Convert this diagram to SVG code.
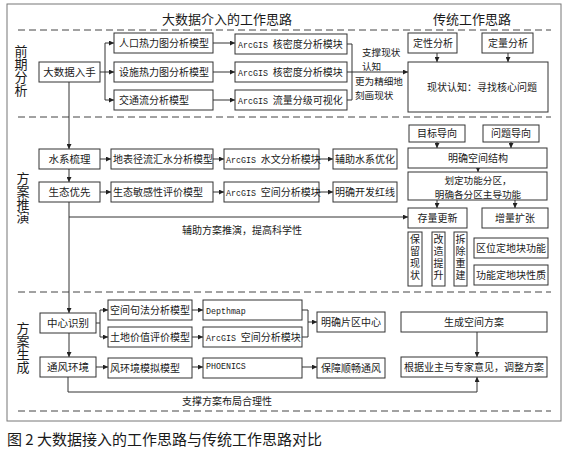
<svg xmlns="http://www.w3.org/2000/svg" width="567" height="451" viewBox="0 0 567 451">
<style>
.b{fill:#fff;stroke:#333;stroke-width:1}
.t{font-family:"Noto Sans CJK SC","Liberation Sans",sans-serif;font-size:10px;fill:#1a1a1a}
.m{font-family:"Liberation Mono","Noto Sans CJK SC",monospace;font-size:8.3px;fill:#1a1a1a}
.z{font-family:"Noto Sans CJK SC",sans-serif;font-size:10px}
.c{text-anchor:middle}
.k{font-size:10.5px}
.g{font-size:9.6px}
.h{font-family:"Noto Sans CJK SC",sans-serif;font-size:13px;fill:#1a1a1a}
.s{font-family:"Noto Sans CJK SC",sans-serif;font-size:13px;fill:#1a1a1a;writing-mode:vertical-rl}
.v{font-family:"Noto Sans CJK SC",sans-serif;font-size:10px;fill:#1a1a1a;writing-mode:vertical-rl;letter-spacing:2px}
.d{stroke:#444;stroke-width:1;stroke-dasharray:7 4;fill:none}
.l{fill:none;stroke:#333;stroke-width:1}
.a{marker-end:url(#ar)}
</style>
<defs>
<marker id="ar" viewBox="0 0 6 6" refX="6" refY="3" markerWidth="5" markerHeight="5" markerUnits="userSpaceOnUse" orient="auto"><path d="M0,0L6,3L0,6z" fill="#222"/></marker>
</defs>
<rect x="0" y="0" width="567" height="451" fill="#fff"/>
<rect x="7" y="4" width="554" height="417" fill="none" stroke="#777" stroke-width="1"/>
<g id="frame">
<line class="d" x1="18" y1="30" x2="551" y2="30"/>
<line class="d" x1="18" y1="117" x2="551" y2="117"/>
<line class="d" x1="18" y1="292" x2="551" y2="292"/>
<line class="d" x1="18" y1="411" x2="551" y2="411"/>
<text class="h" x="162" y="24">大数据介入的工作思路</text>
<text class="h" x="433" y="24">传统工作思路</text>
<text class="s" x="21" y="45">前期分析</text>
<text class="s" x="23" y="172">方案推演</text>
<text class="s" x="23" y="322">方案生成</text>
<text style="font-family:'Noto Sans CJK SC',sans-serif;font-size:15px;fill:#1a1a1a" x="7" y="445">图 2 大数据接入的工作思路与传统工作思路对比</text>
</g>
<g id="connectors">
<path class="l" d="M100,72H105M105,43V100"/>
<path class="l a" d="M105,43H114"/>
<path class="l a" d="M105,72H114"/>
<path class="l a" d="M105,100H114"/>
<path class="l a" d="M213,43H235"/>
<path class="l a" d="M213,72H235"/>
<path class="l a" d="M213,100H235"/>
<path class="l" d="M347,44H352V100H347"/>
<path class="l a" d="M347,72H408"/>
<path class="l a" d="M437,53V62"/>
<path class="l a" d="M508,53V62"/>
<path class="l a" d="M69,82V149"/>
<path class="l a" d="M69,169V182"/>
<path class="l a" d="M69,202V313"/>
<path class="l a" d="M69,217H408"/>
<path class="l a" d="M100,159H111"/>
<path class="l a" d="M100,192H111"/>
<path class="l a" d="M213,159H224"/>
<path class="l a" d="M213,192H224"/>
<path class="l a" d="M319,159H333"/>
<path class="l a" d="M319,192H333"/>
<path class="l a" d="M437,142V148"/>
<path class="l a" d="M511,142V148"/>
<path class="l a" d="M478,168V172"/>
<path class="l a" d="M437,200V208"/>
<path class="l a" d="M515,200V208"/>
<path class="l" d="M96,323H100M100,310V337"/>
<path class="l a" d="M100,310H108"/>
<path class="l a" d="M100,337H108"/>
<path class="l a" d="M192,310H203"/>
<path class="l a" d="M192,337H203"/>
<path class="l" d="M302,310H308V337H302"/>
<path class="l a" d="M308,322H317"/>
<path class="l a" d="M69,333V357"/>
<path class="l a" d="M96,367H108"/>
<path class="l a" d="M192,367H203"/>
<path class="l a" d="M302,367H317"/>
<path class="l a" d="M68,377V392H477V377"/>
<path class="l a" d="M477,332V357"/>
<text class="t g" x="362" y="56">支撑现状</text>
<text class="t g" x="362" y="70">认知</text>
<text class="t g" x="355" y="85">更为精细地</text>
<text class="t g" x="355" y="99">刻画现状</text>
<text class="t" x="182" y="234">辅助方案推演，提高科学性</text>
<text class="t c" x="227" y="405">支撑方案布局合理性</text>
</g>
<g id="n1"><rect class="b" x="39" y="62" width="61" height="20"/><text class="t c k" x="69.5" y="76">大数据入手</text></g>
<g id="n2"><rect class="b" x="114" y="33" width="99" height="20"/><text class="t" x="119" y="47">人口热力图分析模型</text></g>
<g id="n3"><rect class="b" x="114" y="62" width="99" height="20"/><text class="t" x="119" y="76">设施热力图分析模型</text></g>
<g id="n4"><rect class="b" x="114" y="90" width="99" height="20"/><text class="t" x="119" y="104">交通流分析模型</text></g>
<g id="n5"><rect class="b" x="235" y="34" width="112" height="20"/><text class="m" x="238" y="48">ArcGIS <tspan class="z">核密度分析模块</tspan></text></g>
<g id="n6"><rect class="b" x="235" y="62" width="112" height="20"/><text class="m" x="238" y="76">ArcGIS <tspan class="z">核密度分析模块</tspan></text></g>
<g id="n7"><rect class="b" x="235" y="90" width="112" height="20"/><text class="m" x="238" y="104">ArcGIS <tspan class="z">流量分级可视化</tspan></text></g>
<g id="n8"><rect class="b" x="408" y="33" width="49" height="20"/><text class="t c" x="433" y="47">定性分析</text></g>
<g id="n9"><rect class="b" x="482" y="33" width="51" height="20"/><text class="t c" x="508" y="47">定量分析</text></g>
<g id="n10"><rect class="b" x="408" y="62" width="140" height="50"/><text class="t c" x="482" y="91">现状认知：寻找核心问题</text></g>
<g id="n11"><rect class="b" x="39" y="149" width="61" height="20"/><text class="t c k" x="69.5" y="163">水系梳理</text></g>
<g id="n12"><rect class="b" x="39" y="182" width="61" height="20"/><text class="t c k" x="69.5" y="196">生态优先</text></g>
<g id="n13"><rect class="b" x="111" y="149" width="102" height="20"/><text class="t" x="113" y="163">地表径流汇水分析模型</text></g>
<g id="n14"><rect class="b" x="111" y="182" width="102" height="20"/><text class="t" x="113" y="196">生态敏感性评价模型</text></g>
<g id="n15"><rect class="b" x="224" y="149" width="95" height="20"/><text class="m" x="226" y="163">ArcGIS <tspan class="z">水文分析模块</tspan></text></g>
<g id="n16"><rect class="b" x="224" y="182" width="95" height="20"/><text class="m" x="226" y="196">ArcGIS <tspan class="z">空间分析模块</tspan></text></g>
<g id="n17"><rect class="b" x="333" y="149" width="64" height="20"/><text class="t c" x="365" y="163">辅助水系优化</text></g>
<g id="n18"><rect class="b" x="333" y="182" width="64" height="20"/><text class="t c" x="365" y="196">明确开发红线</text></g>
<g id="n19"><rect class="b" x="409" y="125" width="56" height="17"/><text class="t c" x="437" y="137">目标导向</text></g>
<g id="n20"><rect class="b" x="483" y="125" width="56" height="17"/><text class="t c" x="511" y="137">问题导向</text></g>
<g id="n21"><rect class="b" x="408" y="148" width="139" height="20"/><text class="t c" x="478" y="162">明确空间结构</text></g>
<g id="n22"><rect class="b" x="408" y="172" width="139" height="28"/><text class="t c g"><tspan x="478" y="184">划定功能分区，</tspan><tspan x="478" y="198">明确各分区主导功能</tspan></text></g>
<g id="n23"><rect class="b" x="408" y="208" width="59" height="20"/><text class="t c" x="437.5" y="222">存量更新</text></g>
<g id="n24"><rect class="b" x="482" y="208" width="66" height="20"/><text class="t c" x="515" y="222">增量扩张</text></g>
<g id="n25"><rect class="b" x="408" y="232" width="14" height="54"/><text class="v" x="415" y="234">保留现状</text></g>
<g id="n26"><rect class="b" x="432" y="232" width="13" height="54"/><text class="v" x="438.5" y="234">改造提升</text></g>
<g id="n27"><rect class="b" x="454" y="232" width="13" height="54"/><text class="v" x="460.5" y="234">拆除重建</text></g>
<g id="n28"><rect class="b" x="474" y="238" width="74" height="20"/><text class="t c" x="511" y="252">区位定地块功能</text></g>
<g id="n29"><rect class="b" x="474" y="265" width="74" height="20"/><text class="t c" x="511" y="279">功能定地块性质</text></g>
<g id="n30"><rect class="b" x="40" y="313" width="56" height="20"/><text class="t c k" x="68" y="327">中心识别</text></g>
<g id="n31"><rect class="b" x="40" y="357" width="56" height="20"/><text class="t c k" x="68" y="371">通风环境</text></g>
<g id="n32"><rect class="b" x="108" y="300" width="84" height="20"/><text class="t" x="110" y="314">空间句法分析模型</text></g>
<g id="n33"><rect class="b" x="108" y="327" width="84" height="20"/><text class="t" x="110" y="341">土地价值评价模型</text></g>
<g id="n34"><rect class="b" x="108" y="358" width="84" height="20"/><text class="t" x="110" y="372">风环境模拟模型</text></g>
<g id="n35"><rect class="b" x="203" y="300" width="99" height="20"/><text class="m" x="206" y="314">Depthmap</text></g>
<g id="n36"><rect class="b" x="203" y="327" width="99" height="20"/><text class="m" x="206" y="341">ArcGIS <tspan class="z">空间分析模块</tspan></text></g>
<g id="n37"><rect class="b" x="203" y="358" width="99" height="20"/><text class="m" x="206" y="369">PHOENICS</text></g>
<g id="n38"><rect class="b" x="317" y="312" width="68" height="20"/><text class="t c" x="351" y="326">明确片区中心</text></g>
<g id="n39"><rect class="b" x="317" y="358" width="68" height="20"/><text class="t c" x="351" y="372">保障顺畅通风</text></g>
<g id="n40"><rect class="b" x="401" y="312" width="146" height="20"/><text class="t c" x="474" y="326">生成空间方案</text></g>
<g id="n41"><rect class="b" x="401" y="357" width="146" height="20"/><text class="t c" x="474" y="371">根据业主与专家意见，调整方案</text></g>
</svg>
